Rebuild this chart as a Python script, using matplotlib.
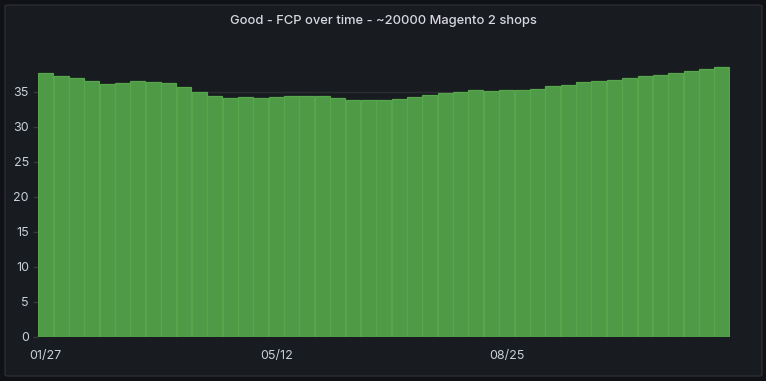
import matplotlib.pyplot as plt
from matplotlib.patches import FancyBboxPatch
import numpy as np

# weekly share of "good" FCP (%)
good_fcp = [37.7, 37.3, 37.0, 36.6, 36.1, 36.3, 36.6, 36.4, 36.3, 35.7,
            35.0, 34.4, 34.1, 34.3, 34.1, 34.3, 34.4, 34.4, 34.4, 34.1,
            33.9, 33.9, 33.9, 34.0, 34.3, 34.6, 34.9, 35.0, 35.3, 35.1,
            35.3, 35.3, 35.4, 35.9, 36.0, 36.4, 36.6, 36.7, 37.0, 37.3,
            37.4, 37.7, 38.0, 38.3, 38.6]
tick_pos = [0, 15, 30]
tick_labels = ["01/27", "05/12", "08/25"]
y_ticks = [0, 5, 10, 15, 20, 25, 30, 35]

title = "Good - FCP over time - ~20000 Magento 2 shops"
text_col = "#c7d0d9"

plt.rcParams['font.family'] = ['Inter', 'DejaVu Sans']

fig = plt.figure(figsize=(7.66, 3.81), dpi=100)
fig.patch.set_facecolor("#111217")

# grafana panel box
panel = FancyBboxPatch((5 / 766, 5 / 381), 757 / 766, 371 / 381,
                       boxstyle="round,pad=0,rounding_size=0.004",
                       transform=fig.transFigure, facecolor="#181b1f",
                       edgecolor="#2a2d33", linewidth=1, zorder=-5)
fig.patches.append(panel)

fig.text(0.5, 1 - 21 / 381, title, ha="center", va="center",
         color="#d8d9e0", fontsize=9.3, fontweight="medium")

ax = fig.add_axes([38 / 766, 44.5 / 381, 691.5 / 766, 276 / 381])
ax.set_facecolor("none")
ax.set_zorder(1)

x = np.arange(len(good_fcp))
ax.bar(x, good_fcp, width=0.97, color="#4f9a47", edgecolor="#56a64b",
       linewidth=0.9, zorder=2)

ax.set_xlim(-0.5, len(good_fcp) - 0.5)
ax.set_ylim(0, 39.5)
ax.set_yticks(y_ticks)
ax.set_xticks(tick_pos)
ax.set_xticklabels(tick_labels)

ax.grid(axis="y", color="white", alpha=0.08, linewidth=1, zorder=3)
ax.grid(axis="x", visible=False)
for s in ax.spines.values():
    s.set_visible(False)

ax.tick_params(axis="y", colors="#34373c", labelcolor=text_col,
               labelsize=9, length=3.5, pad=3, width=1)
ax.tick_params(axis="x", labelcolor=text_col, labelsize=9, length=0, pad=10)

plt.savefig("out.png", dpi=100, facecolor=fig.get_facecolor())
